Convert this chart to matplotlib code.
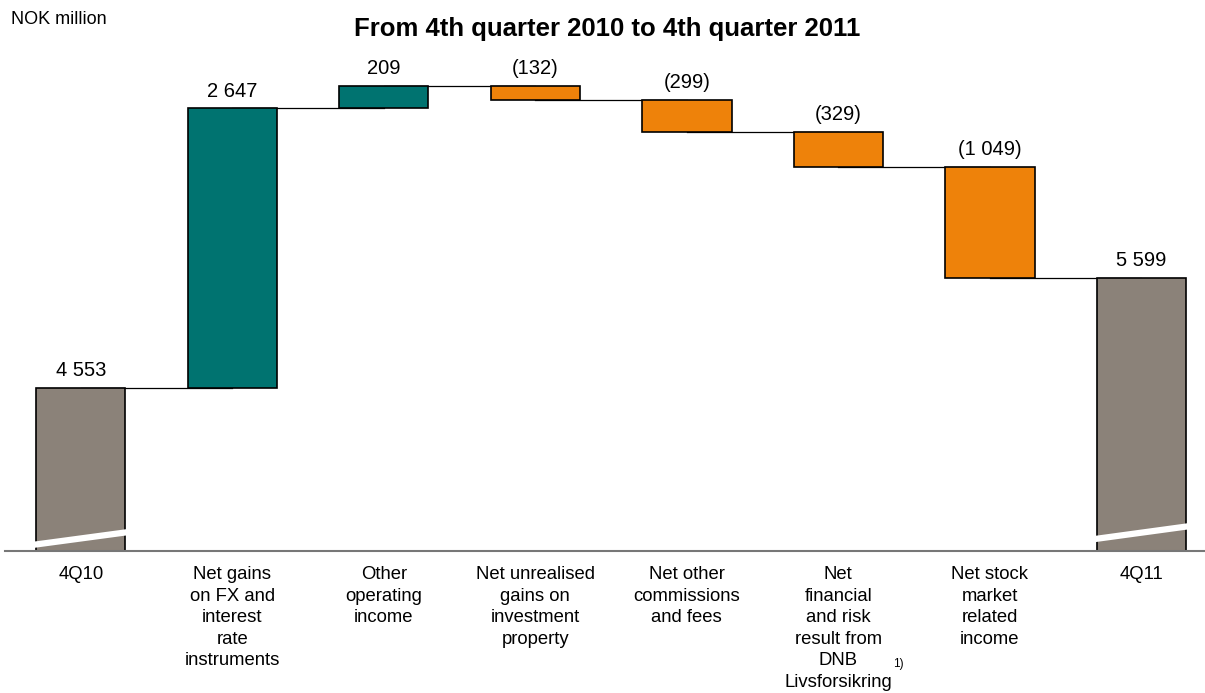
import matplotlib
matplotlib.use("Agg")
import matplotlib.pyplot as plt
from matplotlib.lines import Line2D

plt.rcParams['font.family'] = ['Liberation Sans', 'DejaVu Sans']

# Bridge from 4Q10 to 4Q11, NOK million
categories = ['4Q10', 'Net gains\non FX and\ninterest\nrate\ninstruments', 'Other\noperating\nincome',
              'Net unrealised\ngains on\ninvestment\nproperty', 'Net other\ncommissions\nand fees',
              'Net\nfinancial\nand risk\nresult from\nDNB\nLivsforsikring', 'Net stock\nmarket\nrelated\nincome', '4Q11']
changes = [4553, 2647, 209, -132, -299, -329, -1049, 5599]
value_labels = ['4 553', '2 647', '209', '(132)', '(299)', '(329)', '(1 049)', '5 599']

GREY = '#8b8279'
TEAL = '#007370'
ORANGE = '#ee820a'

fig = plt.figure(figsize=(12.05, 6.93), dpi=100)
ax = fig.add_axes([5 / 1205, 142 / 693, 1200 / 1205, 491 / 693])
ax.set_xlim(-0.5, 7.42)
ax.set_ylim(3016, 7658)
ax.axis('off')

width = 0.59
running = 0
levels = []
for i, ch in enumerate(changes):
    if i == 0 or i == len(changes) - 1:
        bottom, height, color = 0, ch, GREY
        running = ch
    else:
        bottom = running if ch >= 0 else running + ch
        height = abs(ch)
        color = TEAL if ch >= 0 else ORANGE
        running += ch
    levels.append(running)
    ax.bar(i, height, bottom=bottom, width=width, color=color,
           edgecolor='black', linewidth=1.2, zorder=3)
    top = bottom + height
    ax.text(i, top + 75, value_labels[i], ha='center', va='bottom', fontsize=14.5, zorder=5)

# connectors between consecutive bars
for i in range(len(changes) - 1):
    ax.plot([i, i + 1], [levels[i], levels[i]], color='black', lw=0.9, zorder=2)

# baseline
ax.axhline(3016, color='#777777', lw=1.5, zorder=4, clip_on=False)

fig.text(11 / 1205, 1 - 20 / 693, 'NOK million', fontsize=13, va='center', ha='left')
fig.text(607 / 1205, 1 - 29 / 693, 'From 4th quarter 2010 to 4th quarter 2011',
         fontsize=18.5, fontweight='bold', ha='center', va='center')

# category labels
for i, lab in enumerate(categories):
    x = ax.transData.transform((i, 3016))[0] / 1205
    fig.text(x, 1 - 566 / 693, lab, ha='center', va='top', fontsize=13.3, linespacing=1.35)
fig.text(893 / 1205, 1 - 664 / 693, '1)', fontsize=8.5, ha='left', va='center')

# axis break marks on the two totals
for (x0, y0, x1, y1) in [(32, 545, 166, 527), (1073, 542, 1205, 524)]:
    fig.add_artist(Line2D([x0 / 1205, x1 / 1205], [1 - y0 / 693, 1 - y1 / 693],
                          color='white', lw=4.5, zorder=10))

fig.savefig('out.png', dpi=100)
